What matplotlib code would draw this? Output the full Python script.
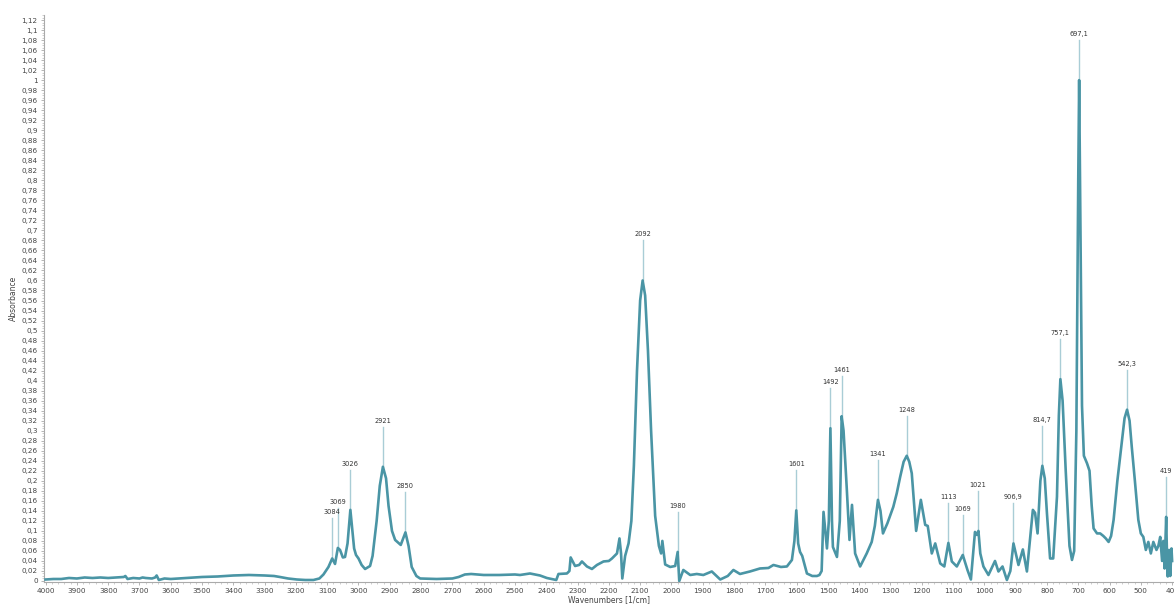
import numpy as np
import matplotlib
matplotlib.use("Agg")
import matplotlib.pyplot as plt
from matplotlib.ticker import MultipleLocator, FuncFormatter

# ---- spectrum ----
wavenumber = [
    4000, 3975, 3950, 3925, 3900, 3875, 3850, 3825, 3800, 3775, 3750, 3745, 3738, 3720, 3700, 3690,
    3680, 3660, 3650, 3645, 3638, 3620, 3600, 3575, 3550, 3525, 3500, 3450, 3400, 3350, 3300, 3270,
    3251, 3225, 3197, 3170, 3144, 3125, 3112, 3096, 3084, 3075, 3066, 3059, 3050, 3043, 3035, 3026,
    3014, 3008, 3000, 2990, 2979, 2963, 2955, 2942, 2932, 2922, 2912, 2904, 2893, 2883, 2865, 2850,
    2840, 2830, 2815, 2803, 2750, 2700, 2680, 2660, 2640, 2600, 2550, 2500, 2484, 2452, 2420, 2398,
    2368, 2361, 2334, 2326, 2322, 2308, 2295, 2286, 2270, 2254, 2238, 2217, 2200, 2190, 2174, 2166,
    2161, 2157, 2148, 2137, 2128, 2120, 2110, 2100, 2092, 2084, 2075, 2065, 2052, 2040, 2033, 2029,
    2020, 2004, 1988, 1980, 1975, 1962, 1940, 1919, 1898, 1871, 1844, 1820, 1802, 1781, 1749, 1717,
    1690, 1674, 1650, 1631, 1615, 1607, 1601, 1595, 1589, 1582, 1567, 1550, 1535, 1527, 1520, 1514,
    1503, 1497, 1492, 1487, 1484, 1471, 1462, 1456, 1450, 1440, 1431, 1423, 1413, 1397, 1376, 1360,
    1350, 1340, 1332, 1324, 1310, 1291, 1280, 1269, 1258, 1248, 1240, 1232, 1218, 1203, 1189, 1181,
    1168, 1157, 1141, 1128, 1115, 1104, 1088, 1069, 1054, 1043, 1030, 1024, 1019, 1013, 1003, 987,
    966, 955, 942, 928, 917, 907, 891, 877, 864, 845, 838, 830, 821, 814.7, 807, 800,
    790, 780, 768, 762, 757.1, 750, 740, 728, 720, 713, 706, 700, 697.1, 693, 688, 682,
    672, 664, 657, 651, 640, 630, 620, 612, 603, 595, 587, 575, 562, 552, 544, 536,
    529, 519, 508, 500, 492, 484, 476, 468, 460, 450, 444, 438, 432, 428, 424, 419,
    416, 414, 410, 406, 402, 400,
]
absorbance = [
    0.003, 0.004, 0.004, 0.006, 0.005, 0.007, 0.006, 0.007, 0.006, 0.007, 0.008, 0.010, 0.004, 0.006, 0.005, 0.007,
    0.006, 0.005, 0.007, 0.011, 0.002, 0.005, 0.004, 0.005, 0.006, 0.007, 0.008, 0.009, 0.011, 0.012, 0.011, 0.010,
    0.008, 0.005, 0.003, 0.002, 0.002, 0.005, 0.013, 0.028, 0.045, 0.034, 0.066, 0.062, 0.047, 0.048, 0.075, 0.142,
    0.065, 0.052, 0.045, 0.032, 0.024, 0.030, 0.050, 0.120, 0.190, 0.228, 0.205, 0.150, 0.100, 0.082, 0.072, 0.097,
    0.070, 0.028, 0.010, 0.005, 0.004, 0.005, 0.008, 0.013, 0.014, 0.012, 0.012, 0.013, 0.012, 0.015, 0.011, 0.006,
    0.002, 0.014, 0.015, 0.020, 0.047, 0.030, 0.032, 0.039, 0.029, 0.024, 0.032, 0.039, 0.040, 0.045, 0.055, 0.085,
    0.055, 0.005, 0.050, 0.075, 0.120, 0.230, 0.420, 0.560, 0.600, 0.570, 0.460, 0.300, 0.130, 0.070, 0.055, 0.080,
    0.033, 0.028, 0.030, 0.058, 0.000, 0.022, 0.012, 0.014, 0.012, 0.019, 0.003, 0.010, 0.022, 0.014, 0.019, 0.025,
    0.026, 0.032, 0.028, 0.029, 0.042, 0.080, 0.141, 0.075, 0.058, 0.050, 0.015, 0.010, 0.010, 0.012, 0.020, 0.138,
    0.065, 0.120, 0.305, 0.120, 0.068, 0.048, 0.120, 0.329, 0.300, 0.188, 0.082, 0.152, 0.055, 0.029, 0.055, 0.078,
    0.110, 0.162, 0.140, 0.095, 0.115, 0.148, 0.175, 0.208, 0.238, 0.250, 0.238, 0.215, 0.100, 0.162, 0.112, 0.110,
    0.055, 0.075, 0.035, 0.029, 0.076, 0.039, 0.029, 0.052, 0.022, 0.003, 0.098, 0.092, 0.100, 0.055, 0.029, 0.012,
    0.040, 0.019, 0.029, 0.002, 0.020, 0.075, 0.032, 0.063, 0.019, 0.142, 0.136, 0.095, 0.200, 0.230, 0.205, 0.135,
    0.045, 0.045, 0.168, 0.330, 0.403, 0.360, 0.220, 0.070, 0.042, 0.060, 0.300, 0.800, 1.000, 0.700, 0.350, 0.250,
    0.235, 0.220, 0.150, 0.105, 0.095, 0.095, 0.090, 0.085, 0.078, 0.090, 0.122, 0.200, 0.270, 0.325, 0.342, 0.320,
    0.268, 0.200, 0.122, 0.095, 0.088, 0.062, 0.078, 0.055, 0.078, 0.062, 0.070, 0.088, 0.040, 0.080, 0.025, 0.128,
    0.040, 0.009, 0.062, 0.010, 0.065, 0.040,
]

# ---- peak annotations ----
peak_labels = ["3084", "3069", "3026", "2921", "2850", "2092", "1980", "1601", "1492", "1461",
               "1341", "1248", "1113", "1069", "1021", "906,9", "814,7", "757,1", "697,1", "542,3", "419"]
peak_positions = [3084, 3066, 3026, 2922, 2850, 2092, 1980, 1601, 1492, 1456,
                  1340, 1248, 1115, 1069, 1021, 907, 814.7, 757.1, 697.1, 544, 419]

x_label = "Wavenumbers [1/cm]"
y_label = "Absorbance"

# ---- figure ----
W, H = 1174, 606
fig = plt.figure(figsize=(W / 100, H / 100), dpi=100)
left_px, right_px, top_px, bottom_px = 44, 1174, 15, 582
ax = fig.add_axes([left_px / W, (H - bottom_px) / H, (right_px - left_px) / W, (bottom_px - top_px) / H])

line_color = "#4a95a5"
ax.plot(wavenumber, absorbance, color=line_color, lw=1.9, solid_joinstyle="round", zorder=3)

ax.set_xlim(4005, 394)
ax.set_ylim(-0.002, 1.13)

wn = np.array(wavenumber, dtype=float)
ab = np.array(absorbance, dtype=float)
line_len = 0.08
for lab, pos in zip(peak_labels, peak_positions):
    idx = int(np.argmin(np.abs(wn - pos)))
    yv = ab[idx]
    ax.plot([pos, pos], [yv, yv + line_len], color="#a9cdd6", lw=1.0, zorder=2)
    ax.text(pos, yv + line_len + 0.006, lab, ha="center", va="bottom", fontsize=4.8, color="#333333")

# ticks
ax.xaxis.set_major_locator(MultipleLocator(100))
ax.xaxis.set_minor_locator(MultipleLocator(20))
ax.yaxis.set_major_locator(MultipleLocator(0.02))
ax.yaxis.set_minor_locator(MultipleLocator(0.005))


def comma_fmt(v, _):
    s = f"{v:.2f}".rstrip("0").rstrip(".")
    if s in ("-0", ""):
        s = "0"
    return s.replace(".", ",")


ax.yaxis.set_major_formatter(FuncFormatter(comma_fmt))
ax.xaxis.set_major_formatter(FuncFormatter(lambda v, _: f"{int(round(v))}"))

for sp in ("top", "right"):
    ax.spines[sp].set_visible(False)
for sp in ("left", "bottom"):
    ax.spines[sp].set_color("#aaaaaa")
    ax.spines[sp].set_linewidth(0.8)

ax.tick_params(axis="both", which="major", labelsize=5.2, labelcolor="#444444", color="#aaaaaa",
               length=2.5, width=0.6, pad=2)
ax.tick_params(axis="both", which="minor", color="#bbbbbb", length=1.5, width=0.5)

ax.set_xlabel(x_label, fontsize=5.5, color="#444444", labelpad=0.5)
ax.set_ylabel(y_label, fontsize=5.5, color="#444444", labelpad=3)

fig.savefig("out.png", dpi=100, facecolor="white")
